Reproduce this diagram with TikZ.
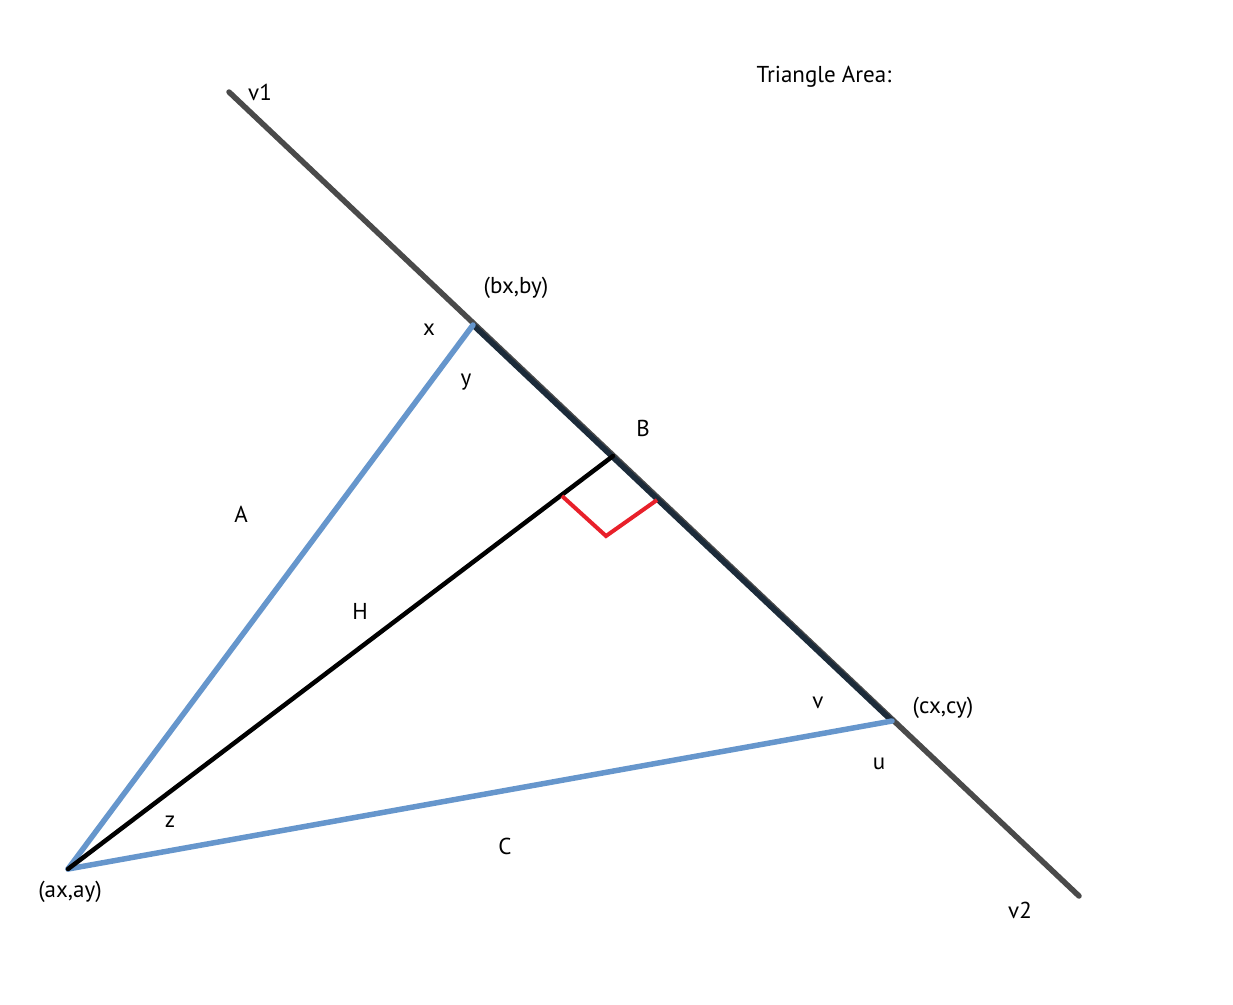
\documentclass[tikz,border=0pt]{standalone}
\usepackage{fontspec}
\setmainfont{PT Sans}
\usetikzlibrary{positioning}
\definecolor{linegray}{HTML}{4A4A4A}
\definecolor{linenavy}{HTML}{1C2B3A}
\definecolor{sideblue}{HTML}{6696CC}
\definecolor{markred}{HTML}{E8202A}
\tikzset{
  lbl/.style={font=\fontsize{23}{27}\selectfont, inner sep=0pt},
  sideline/.style={line width=5.5pt, sideblue, line cap=round},
}

\begin{document}
\begin{tikzpicture}[x=1pt,y=-1pt]
\useasboundingbox (0,0) rectangle (1233,1004);
% points of the figure
\coordinate (v1end) at (229,92);
\coordinate (v2end) at (1079,896);
\coordinate (bxy) at (473,325);
\coordinate (cxy) at (892,721);
\coordinate (axy) at (68,869);
\coordinate (foot) at (613,456);
% the line through b and c
\draw[line width=5.5pt, linegray, line cap=round] (v1end) -- (v2end);
\draw[line width=5.5pt, linenavy] (bxy) -- (cxy);
% sides A and C
\draw[sideline] (axy) -- (bxy);
\draw[sideline] (axy) -- (cxy);
% height H
\draw[line width=4.5pt, black, line cap=round] (axy) -- (foot);
% right angle
\draw[line width=4pt, markred, line join=miter] (562,496) -- (606,536) -- (657,500);
% labels
\node[lbl] (v1) at (260,92) {v1};
\node[lbl] (v2) at (1020,910) {v2};
\node[lbl] (title) at (824,77) {Triangle Area:};
\node[lbl] (bl) at (516,288) {(bx,by)};
\node[lbl] (cl) at (943,708) {(cx,cy)};
\node[lbl] (al) at (70,892) {(ax,ay)};
\node[lbl] (xl) at (429,330) {x};
\node[lbl] (yl) at (466,382) {y};
\node[lbl] (Bl) at (643,428) {B};
\node[lbl] (Al) at (241,514) {A};
\node[lbl] (Hl) at (360,611) {H};
\node[lbl] (vl) at (818,703) {v};
\node[lbl] (ul) at (879,764) {u};
\node[lbl] (zl) at (170,822) {z};
\node[lbl] (Cl) at (505,846) {C};
\end{tikzpicture}
\end{document}
